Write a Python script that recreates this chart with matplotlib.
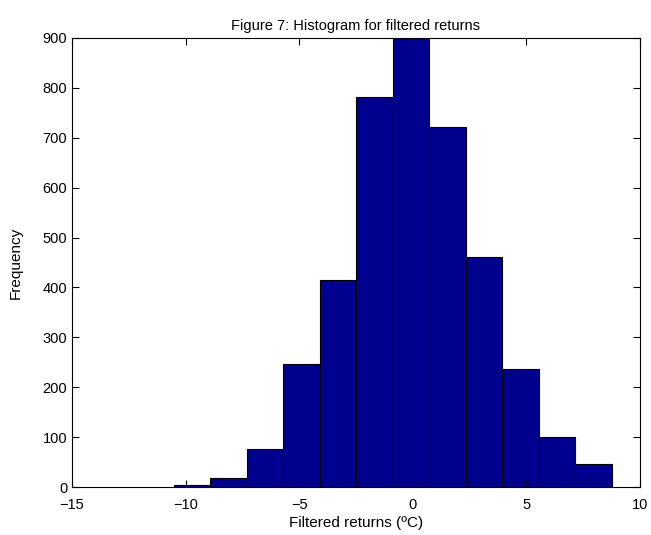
import numpy as np
import matplotlib
matplotlib.use("Agg")
import matplotlib.pyplot as plt

# Histogram counts per bin (12 equal-width bins)
bin_lo = -10.51
bin_hi = 8.75
counts = [5, 18, 76, 247, 414, 782, 899, 722, 461, 236, 100, 46]

x_ticks = [-15, -10, -5, 0, 5, 10]
y_ticks = [0, 100, 200, 300, 400, 500, 600, 700, 800, 900]

plt.rcParams['font.family'] = ['Liberation Sans', 'DejaVu Sans']

edges = np.linspace(bin_lo, bin_hi, len(counts) + 1)
widths = np.diff(edges)

fig = plt.figure(figsize=(6.51, 5.35), dpi=100)
ax = fig.add_axes([0.1106, 0.0897, 0.8724, 0.8393])

ax.bar(edges[:-1], counts, width=widths, align='edge',
       color='#00008f', edgecolor='black', linewidth=0.8)

ax.set_xlim(-15, 10)
ax.set_ylim(0, 900)
ax.set_xticks(x_ticks)
ax.set_yticks(y_ticks)
ax.set_xticklabels([str(t).replace('-', '\u2212') for t in x_ticks])
ax.tick_params(direction='in', top=True, right=True, labelsize=10.5,
               length=5, width=0.8)
ax.tick_params(axis='x', pad=8)
for sp in ax.spines.values():
    sp.set_linewidth(0.8)

ax.set_title('Figure 7: Histogram for filtered returns', fontsize=10.5, pad=6)
ax.set_xlabel('Filtered returns (ºC)', fontsize=11, labelpad=3)
ax.set_ylabel('Frequency', fontsize=11, labelpad=14)

fig.savefig('out.png', dpi=100)
